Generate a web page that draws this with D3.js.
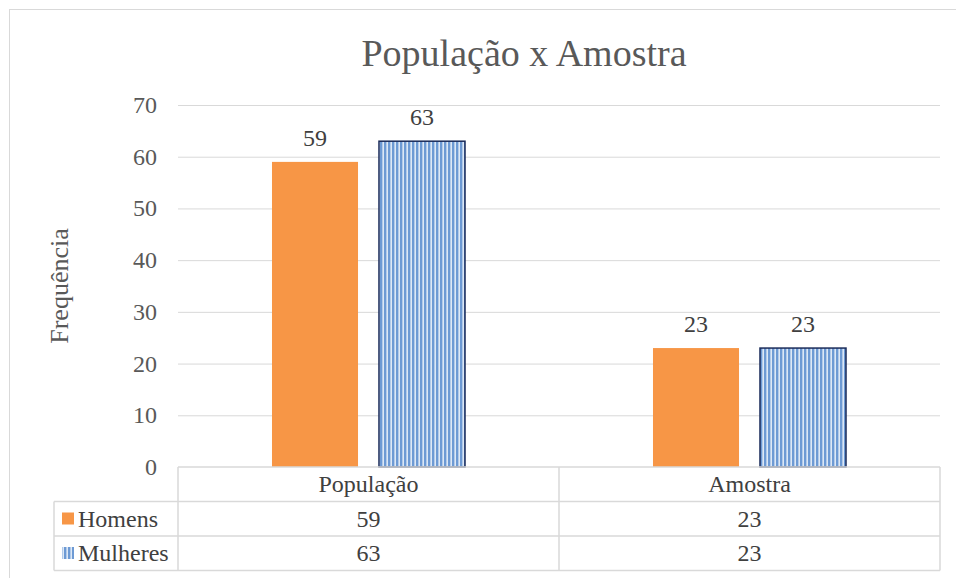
<!DOCTYPE html>
<html>
<head>
<meta charset="utf-8">
<script src="https://cdn.jsdelivr.net/npm/d3@7"></script>
<style>
  body { margin: 0; background: #fff; }
  svg { display: block; }
  svg text { font-family: 'Liberation Serif', 'Times New Roman', serif; }
</style>
</head>
<body>
<svg id="chart" width="956" height="578"></svg>
<script>
// chart data
const categories = ["População", "Amostra"];
const seriesNames = ["Homens", "Mulheres"];
const homens = [59, 23];
const mulheres = [63, 23];
const yTicks = [0, 10, 20, 30, 40, 50, 60, 70];

const series = [homens, mulheres];

let svg = d3.select("#chart");

// stripes for Mulheres
let defs = svg.append("defs");
let pat = defs.append("pattern")
    .attr("id", "stripes")
    .attr("patternUnits", "userSpaceOnUse")
    .attr("width", 4).attr("height", 4);
pat.append("rect").attr("width", 4).attr("height", 4).attr("fill", "#dde8f5");
pat.append("rect").attr("x", 0).attr("width", 2).attr("height", 4).attr("fill", "#6d9ad4");
pat.append("rect").attr("x", 2).attr("width", 0.8).attr("height", 4).attr("fill", "#a9c4e8");

// outer frame
svg.append("rect")
    .attr("x", 9.5).attr("y", 9.5)
    .attr("width", 960).attr("height", 600)
    .attr("fill", "none").attr("stroke", "#d9d9d9");

svg.append("text")
    .attr("x", 524).attr("y", 66)
    .attr("text-anchor", "middle")
    .attr("font-size", 38)
    .attr("fill", "#595959")
    .text("População x Amostra");

const plotL = 178, plotR = 940, plotT = 105, plotB = 467;

let y = d3.scaleLinear().domain([0, 70]).range([plotB, plotT]);
let x0 = d3.scaleBand().domain(categories).range([plotL, plotR]);
let x1 = d3.scaleBand().domain(seriesNames)
    .range([x0.bandwidth() * 0.2467, x0.bandwidth() * 0.7533])
    .paddingInner(0.196);

// gridlines
svg.append("g").selectAll("line")
    .data(yTicks.slice(1)).enter().append("line")
    .attr("x1", plotL).attr("x2", plotR)
    .attr("y1", d => y(d) + 0.5).attr("y2", d => y(d) + 0.5)
    .attr("stroke", "#d9d9d9").attr("stroke-width", 1);

// y tick labels
svg.append("g").selectAll("text")
    .data(yTicks).enter().append("text")
    .attr("x", 157).attr("y", d => y(d) + 8)
    .attr("text-anchor", "end")
    .attr("font-size", 24)
    .attr("fill", "#595959")
    .text(d => d);

svg.append("text")
    .attr("transform", "translate(68," + (plotB + plotT) / 2 + ") rotate(-90)")
    .attr("text-anchor", "middle")
    .attr("font-size", 26)
    .attr("fill", "#595959")
    .text("Frequência");

// bars
seriesNames.forEach(function(s, si) {
  let g = svg.append("g");
  g.selectAll("rect")
    .data(series[si]).enter().append("rect")
    .attr("x", (d, i) => x0(categories[i]) + x1(s))
    .attr("y", d => y(d))
    .attr("width", x1.bandwidth())
    .attr("height", d => plotB - y(d))
    .attr("fill", si === 0 ? "#f79646" : "url(#stripes)")
    .attr("stroke", si === 0 ? "none" : "#1a2b5a")
    .attr("stroke-width", 1.5);

  g.selectAll("text")
    .data(series[si]).enter().append("text")
    .attr("x", (d, i) => x0(categories[i]) + x1(s) + x1.bandwidth() / 2)
    .attr("y", d => y(d) - 16)
    .attr("text-anchor", "middle")
    .attr("font-size", 24)
    .attr("fill", "#404040")
    .text(d => d);
});

// data table
const rowH = 34.5;
let tbl = svg.append("g").attr("stroke", "#d9d9d9").attr("stroke-width", 1.5).attr("fill", "none");
tbl.append("line").attr("x1", plotL).attr("x2", plotR).attr("y1", plotB).attr("y2", plotB);
for (let r = 1; r <= 3; r++) {
  tbl.append("line").attr("x1", 54).attr("x2", plotR)
    .attr("y1", plotB + r * rowH).attr("y2", plotB + r * rowH);
}
tbl.append("line").attr("x1", 54).attr("x2", 54).attr("y1", plotB + rowH).attr("y2", plotB + 3 * rowH);
[plotL, x0("Amostra"), plotR].forEach(function(xx) {
  tbl.append("line").attr("x1", xx).attr("x2", xx).attr("y1", plotB).attr("y2", plotB + 3 * rowH);
});

svg.append("g").selectAll("text")
    .data(categories).enter().append("text")
    .attr("x", d => x0(d) + x0.bandwidth() / 2)
    .attr("y", plotB + rowH / 2 + 8)
    .attr("text-anchor", "middle")
    .attr("font-size", 24)
    .attr("fill", "#404040")
    .text(d => d);

seriesNames.forEach(function(s, si) {
  let ry = plotB + (si + 1) * rowH;
  svg.append("rect")
    .attr("x", 62).attr("y", ry + 11)
    .attr("width", 12).attr("height", 12)
    .attr("fill", si === 0 ? "#f79646" : "url(#stripes)");
  svg.append("text")
    .attr("x", 78).attr("y", ry + rowH / 2 + 8)
    .attr("font-size", 24)
    .attr("fill", "#404040")
    .text(s);
  svg.append("g").selectAll("text")
    .data(series[si]).enter().append("text")
    .attr("x", (d, i) => x0(categories[i]) + x0.bandwidth() / 2)
    .attr("y", ry + rowH / 2 + 8)
    .attr("text-anchor", "middle")
    .attr("font-size", 24)
    .attr("fill", "#404040")
    .text(d => d);
});
</script>
</body>
</html>
